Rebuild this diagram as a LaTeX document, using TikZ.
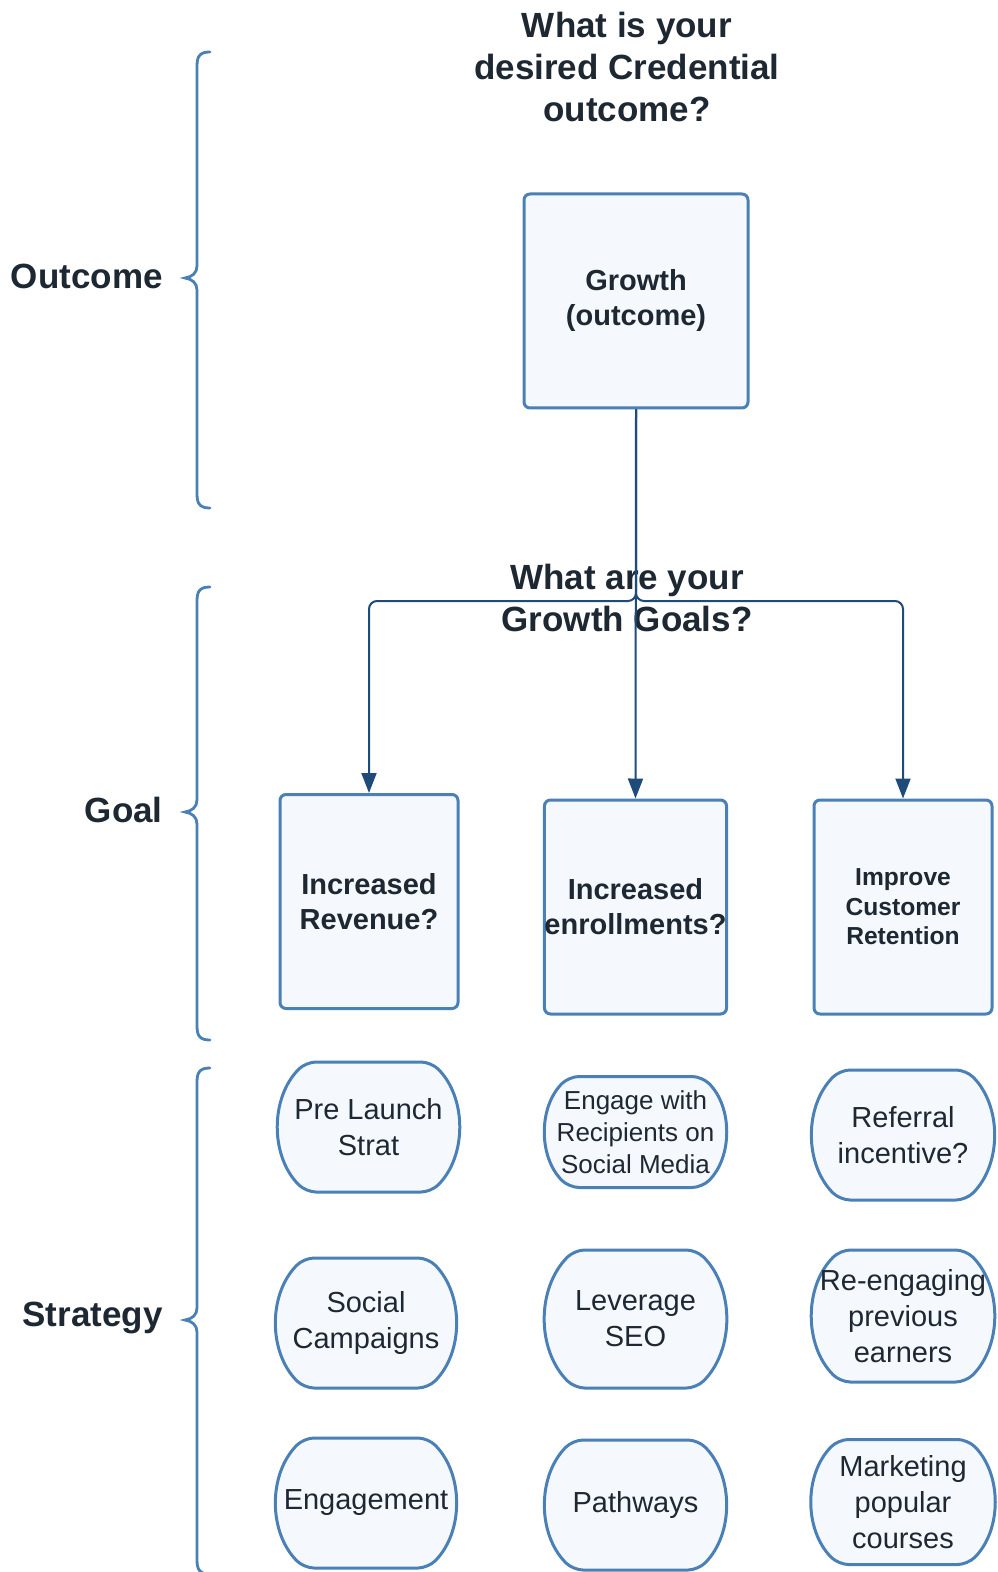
\documentclass[tikz,border=0pt]{standalone}
\usepackage{fontspec}
\setmainfont{Liberation Sans}
\usepackage{xcolor}
\usetikzlibrary{arrows.meta,positioning,calc,backgrounds}

\definecolor{boxblue}{HTML}{4A80B5}
\definecolor{boxfill}{HTML}{F5F9FE}
\definecolor{arrowblue}{HTML}{1F4B79}
\definecolor{inkdark}{HTML}{1E2833}

\begin{document}
\begin{tikzpicture}[x=0.5pt, y=-0.5pt, every node/.style={text=inkdark},
    heading/.style={font=\fontsize{17.5}{21}\selectfont\bfseries, align=center},
    sidelabel/.style={font=\fontsize{17.5}{21}\selectfont\bfseries, anchor=east, inner sep=0pt},
    goalbox/.style={draw=boxblue, fill=boxfill, line width=1.5pt, rounded corners=3pt,
        minimum width=89pt, minimum height=107pt, inner xsep=0pt, align=center,
        font=\fontsize{14.5}{17.5}\selectfont\bfseries},
    stratbox/.style={inner sep=0pt, align=center, font=\fontsize{14.5}{18}\selectfont},
    stratline/.style={draw=boxblue, fill=boxfill, line width=1.5pt, line join=round, rounded corners=5pt},
    flow/.style={draw=arrowblue, line width=1pt, -{Triangle[length=10pt,width=7.5pt]}},
    brc/.style={draw=boxblue, line width=1.4pt, line cap=round}]
    \useasboundingbox (0,0) rectangle (997,1572);

    % side braces
    \foreach \ya/\yb/\yc in {52/278/508, 587/812/1040, 1068/1320/1574}
        \draw[brc] (210,\ya) .. controls (200,\ya) and (197,\ya+4) .. (197,\ya+14)
            -- (197,\yb-12) .. controls (197,\yb-5) and (192,\yb-1) .. (185,\yb)
            .. controls (192,\yb+1) and (197,\yb+5) .. (197,\yb+12)
            -- (197,\yc-14) .. controls (197,\yc-4) and (200,\yc) .. (210,\yc);
    \node[sidelabel] (lblout) at (163,276) {Outcome};
    \node[sidelabel] (lblgoal) at (163,810) {Goal};
    \node[sidelabel] (lblstrat) at (163,1318) {Strategy};

    % outcome
    \node[heading] (askout) at (627,67) {What is your\\desired Credential\\outcome?};
    \node[goalbox, minimum width=112pt] (growth) at (636,301) {Growth\\(outcome)};

    % goals
    \node[heading] (askgoal) at (627,598) {What are your\\Growth Goals?};
    \node[goalbox] (rev) at (369,901.5) {Increased\\Revenue?};
    \node[goalbox] (enr) at (635.5,907) {Increased\\enrollments?};
    \node[goalbox, font=\fontsize{12.3}{14.8}\selectfont\bfseries] (ret) at (903,907) {Improve\\Customer\\Retention};

    \coordinate (split) at (636,601);
    \draw[flow] (growth.south) -- (enr.north);
    \draw[flow, rounded corners=4pt] (growth.south) -- (split) -| (rev.north);
    \draw[flow, rounded corners=4pt] (growth.south) -- (split) -| (ret.north);

    % strategies
    \node[stratbox] (prelaunch) at (368.5,1127) {Pre Launch\\Strat};
    \node[stratbox, font=\fontsize{13}{16}\selectfont] (social) at (635.5,1132) {Engage with\\Recipients on\\Social Media};
    \node[stratbox] (referral) at (903,1135) {Referral\\incentive?};
    \node[stratbox] (campaigns) at (366,1323) {Social\\Campaigns};
    \node[stratbox] (seo) at (635.5,1319) {Leverage\\SEO};
    \node[stratbox] (reengage) at (903,1316) {Re-engaging\\previous\\earners};
    \node[stratbox] (engage) at (366,1503) {Engagement};
    \node[stratbox] (pathways) at (635.5,1505) {Pathways};
    \node[stratbox] (popular) at (903,1502) {Marketing\\popular\\courses};

    % bulged outlines behind the strategy texts
    \begin{scope}[on background layer]
        \foreach \nm/\hw/\hh [evaluate=\hh as \k using 0.552*\hh] in
            {prelaunch/62.6/65, social/66.5/55.5, referral/63/65,
             campaigns/62/65, seo/61/69, reengage/62.7/66,
             engage/62/65, pathways/62.5/65, popular/64.6/62.5}
            \draw[stratline] ($(\nm)+(0,-\hh)$) -- ($(\nm)+(\hw,-\hh)$)
                .. controls ($(\nm)+(\hw+\k,-\hh+\k)$) and ($(\nm)+(\hw+\k,\hh-\k)$) .. ($(\nm)+(\hw,\hh)$)
                -- ($(\nm)+(-\hw,\hh)$)
                .. controls ($(\nm)+(-\hw-\k,\hh-\k)$) and ($(\nm)+(-\hw-\k,-\hh+\k)$) .. ($(\nm)+(-\hw,-\hh)$)
                -- cycle;
    \end{scope}
\end{tikzpicture}
\end{document}
